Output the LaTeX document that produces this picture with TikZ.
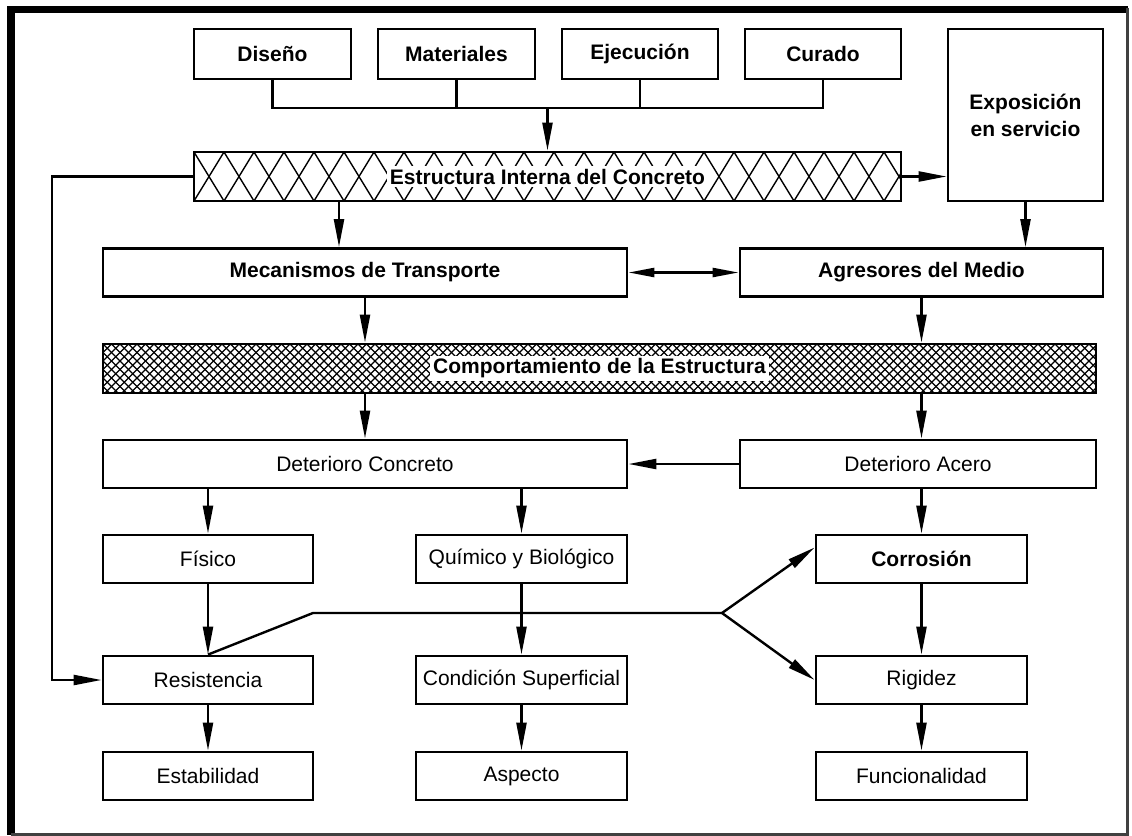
\documentclass[tikz,border=0pt]{standalone}
\usepackage{fontspec}
\setmainfont{Liberation Sans}
\usetikzlibrary{arrows.meta}

\tikzset{
  blk/.style={draw, line width=1.4pt, minimum height=24pt, inner sep=1pt, align=center,
    font=\fontsize{10.5}{13.5}\selectfont},
  bblk/.style={blk, font=\fontsize{10.5}{13.5}\selectfont\bfseries},
  ln/.style={line width=1.2pt},
  arr/.style={line width=1.2pt, -{Triangle[length=14pt,width=5pt]}},
  dbl/.style={line width=1.2pt, {Triangle[length=13pt,width=4.5pt]}-{Triangle[length=13pt,width=4.5pt]}},
  coarse/.style={path picture={
    \foreach \k in {-2,...,25}
      \draw[line width=0.7pt] ([xshift=\k*15pt]path picture bounding box.north west) -- ++(30,49)
        ([xshift=\k*15pt]path picture bounding box.north west) -- ++(-30,49);
  }},
  fine/.style={path picture={
    \foreach \k in {-7,...,124}
      \draw[line width=0.55pt] ([xshift=\k*4.25pt]path picture bounding box.north west) -- ++(49,49)
        ([xshift=\k*4.25pt]path picture bounding box.north west) -- ++(-49,49);
  }}
}
\setlength{\fboxsep}{1.5pt}

\begin{document}
\begin{tikzpicture}[x=0.5pt, y=-0.5pt]
  \useasboundingbox (0,0) rectangle (1132,836);

  % marco
  \draw[line width=3.5pt] (7,9.5) -- (1128,9.5);
  \draw[line width=4pt] (11,6) -- (11,835);
  \draw[line width=1.5pt, black!75] (1127,8) -- (1127,834.5) -- (11,834.5);

  % fila superior
  \node[bblk, minimum width=78.5pt, minimum height=25pt] (dis) at (272.5,54) {Diseño};
  \node[bblk, minimum width=78.5pt, minimum height=25pt] (mat) at (456.5,54) {Materiales};
  \node[bblk, minimum width=78pt, minimum height=25pt] (eje) at (640,54) {Ejecución};
  \node[bblk, minimum width=78pt, minimum height=25pt] (cur) at (823,54) {Curado};
  \node[bblk, minimum width=77.5pt, minimum height=86pt] (expo) at (1025.5,115) {Exposición\\en servicio};

  \node[bblk, coarse, minimum width=353.5pt, minimum height=24.5pt] (est) at (547.5,176.5)
    {\colorbox{white}{Estructura Interna del Concreto}};

  \node[bblk, minimum width=262pt] (mec) at (365,272.5) {Mecanismos de Transporte};
  \node[bblk, minimum width=181.5pt] (agr) at (921.5,272.5) {Agresores del Medio};

  \node[bblk, fine, minimum width=496.5pt, minimum height=24.5pt] (comp) at (599.5,368.5)
    {\colorbox{white}{Comportamiento de la Estructura}};

  \node[blk, minimum width=262pt] (conc) at (365,464) {Deterioro Concreto};
  \node[blk, minimum width=178pt] (ace) at (918,464) {Deterioro Acero};

  \node[blk, minimum width=105pt] (fis) at (208,559) {Físico};
  \node[blk, minimum width=105.5pt] (qui) at (521.5,559) {Químico y Biológico};
  \node[bblk, minimum width=105.5pt] (cor) at (921.5,559) {Corrosión};

  \node[blk, minimum width=105pt] (res) at (208,680) {Resistencia};
  \node[blk, minimum width=105.5pt] (con) at (521.5,680) {Condición Superficial};
  \node[blk, minimum width=105.5pt] (rig) at (921.5,680) {Rigidez};

  \node[blk, minimum width=105pt] (estab) at (208,776) {Estabilidad};
  \node[blk, minimum width=105.5pt] (asp) at (521.5,776) {Aspecto};
  \node[blk, minimum width=105.5pt] (fun) at (921.5,776) {Funcionalidad};

  % conectores
  \coordinate (bus) at (547.5,108);
  \draw[ln] (dis.south) |- (bus) -| (cur.south);
  \draw[ln] (mat.south) -- (mat.south |- bus);
  \draw[ln] (eje.south) -- (eje.south |- bus);
  \draw[arr] (bus) -- (est.north);

  \draw[arr] (est.east) -- (est.east -| expo.west);
  \coordinate (izq) at (52,0);
  \draw[arr] (est.west) -| (izq |- res.west) -- (res.west);

  \coordinate (baja) at (339,0);
  \draw[arr] (est.south -| baja) -- (mec.north -| baja);
  \draw[arr] (expo.south) -- (expo.south |- agr.north);
  \draw[dbl] (mec.east) -- (agr.west);

  \draw[arr] (mec.south) -- (mec.south |- comp.north);
  \draw[arr] (agr.south) -- (agr.south |- comp.north);
  \draw[arr] (comp.south -| conc.north) -- (conc.north);
  \draw[arr] (comp.south -| cor.north) -- (ace.north -| cor.north);
  \draw[arr] (ace.west) -- (conc.east);

  \draw[arr] (conc.south -| fis.north) -- (fis.north);
  \draw[arr] (conc.south -| qui.north) -- (qui.north);
  \draw[arr] (ace.south -| cor.north) -- (cor.north);

  \draw[arr] (fis) -- (res);
  \draw[arr] (qui) -- (con);
  \draw[arr] (cor) -- (rig);
  \draw[arr] (res) -- (estab);
  \draw[arr] (con) -- (asp);
  \draw[arr] (rig) -- (fun);

  \coordinate (quiebre) at (313,613);
  \coordinate (fork) at (722,613);
  \draw[ln] (res.north) -- (quiebre) -- (fork);
  \draw[arr] (fork) -- ([yshift=5.75pt]cor.west);
  \draw[arr] (fork) -- (rig.west);
\end{tikzpicture}
\end{document}
